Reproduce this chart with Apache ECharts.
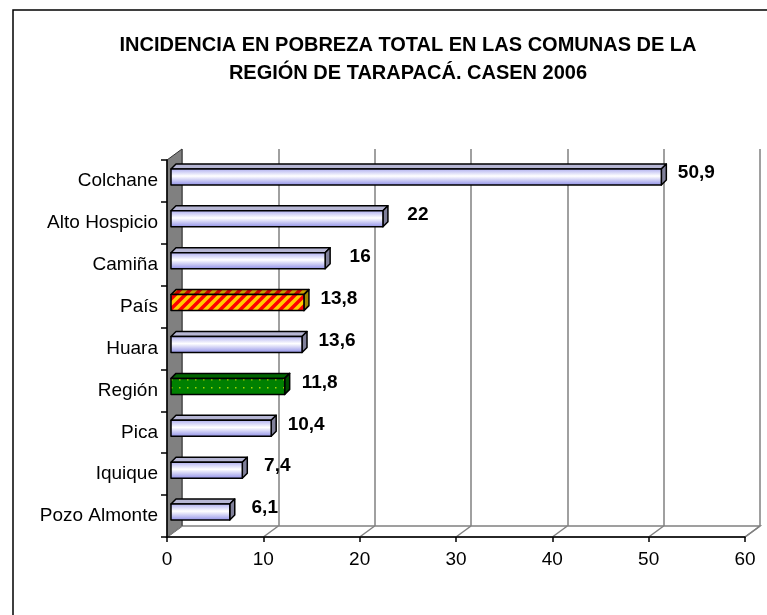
<!DOCTYPE html>
<html>
<head>
<meta charset="utf-8">
<script src="https://cdn.jsdelivr.net/npm/echarts@6/dist/echarts.min.js"></script>
<style>
  html, body { margin: 0; padding: 0; background: #fff; }
  #chart { width: 767px; height: 615px; }
</style>
</head>
<body>
<div id="chart"></div>
<script>
var categories = ["Colchane", "Alto Hospicio", "Camiña", "País", "Huara", "Región", "Pica", "Iquique", "Pozo Almonte"];
var values = [50.9, 22, 16, 13.8, 13.6, 11.8, 10.4, 7.4, 6.1];
var valueLabels = ["50,9", "22", "16", "13,8", "13,6", "11,8", "10,4", "7,4", "6,1"];
var xTicks = [0, 10, 20, 30, 40, 50, 60];

var FONT = "'Liberation Sans', Arial, sans-serif";
var DEPTH_X = 15, DEPTH_Y = 11;   // 3d wall depth

// patterns for the two special bars
function stripePattern(bg, fg) {
    var n = 10;
    var c = document.createElement("canvas");
    c.width = n; c.height = n;
    var g = c.getContext("2d");
    g.fillStyle = bg;
    g.fillRect(0, 0, n, n);
    g.strokeStyle = fg;
    g.lineWidth = 3.5;
    g.beginPath();
    g.moveTo(-2, n + 2); g.lineTo(n + 2, -2);
    g.moveTo(-2, 2); g.lineTo(2, -2);
    g.moveTo(n - 2, n + 2); g.lineTo(n + 2, n - 2);
    g.stroke();
    return c;
}
function dotPattern() {
    var c = document.createElement("canvas");
    c.width = 8; c.height = 8;
    var g = c.getContext("2d");
    g.fillStyle = "#008000";
    g.fillRect(0, 0, 8, 8);
    g.fillStyle = "#a6d600";
    g.fillRect(3, 3, 1.5, 1.5);
    return c;
}

var blueFront = new echarts.graphic.LinearGradient(0, 0, 0, 1, [
    { offset: 0, color: "#a8a8ee" },
    { offset: 0.45, color: "#ffffff" },
    { offset: 1, color: "#8a8ae6" }
]);
var barStyles = {
    "País": {
        front: { image: stripePattern("#ffcc00", "#ff0000"), repeat: "repeat" },
        top: { image: stripePattern("#c8a000", "#d00000"), repeat: "repeat" },
        side: "#a08800"
    },
    "Región": { front: { image: dotPattern(), repeat: "repeat" }, top: "#006400", side: "#004b00" },
    "default": { front: blueFront, top: "#b6b6d4", side: "#80809a" }
};

function renderFrame(params, api) {
    var cs = params.coordSys;
    var left = cs.x, top = cs.y, bottom = cs.y + cs.height, right = cs.x + cs.width;
    var children = [];
    // floor
    children.push({
        type: "polygon",
        shape: { points: [[left, bottom], [right, bottom], [right + DEPTH_X, bottom - DEPTH_Y], [left + DEPTH_X, bottom - DEPTH_Y]] },
        style: { fill: "#ffffff", stroke: "#808080", lineWidth: 1.5 }
    });
    // left wall
    children.push({
        type: "polygon",
        shape: { points: [[left, top], [left + DEPTH_X, top - DEPTH_Y], [left + DEPTH_X, bottom - DEPTH_Y], [left, bottom]] },
        style: { fill: "#808080", stroke: "#333333", lineWidth: 1 }
    });
    // floor diagonals at each tick
    xTicks.forEach(function (t) {
        var x = api.coord([t, 0])[0];
        children.push({
            type: "line",
            shape: { x1: x, y1: bottom, x2: x + DEPTH_X, y2: bottom - DEPTH_Y },
            style: { stroke: "#808080", lineWidth: 1.5 }
        });
    });
    return { type: "group", children: children };
}

function renderBar(params, api) {
    var v = api.value(0);
    var i = api.value(1);
    var name = categories[i];
    var st = barStyles[name] || barStyles["default"];
    var p0 = api.coord([0, i]);
    var p1 = api.coord([v, i]);
    var h = 16, d = 5;
    var x0 = p0[0] + 4, x1 = p1[0] + 4;
    var cy = p0[1] - 4;
    var y0 = cy - h / 2, y1 = cy + h / 2;
    var line = { stroke: "#000000", lineWidth: 1.5, lineJoin: "round" };
    return {
        type: "group",
        children: [
            {
                type: "polygon",
                shape: { points: [[x0, y0], [x0 + d, y0 - d], [x1 + d, y0 - d], [x1, y0]] },
                style: Object.assign({ fill: st.top }, line)
            },
            {
                type: "polygon",
                shape: { points: [[x1, y0], [x1 + d, y0 - d], [x1 + d, y1 - d], [x1, y1]] },
                style: Object.assign({ fill: st.side }, line)
            },
            {
                type: "rect",
                shape: { x: x0, y: y0, width: x1 - x0, height: h },
                style: Object.assign({ fill: st.front }, line)
            },
            {
                type: "text",
                style: {
                    x: x1 + 35, y: cy - 4,
                    text: valueLabels[i],
                    align: "center", verticalAlign: "middle",
                    font: "bold 19px " + FONT,
                    fill: "#000000"
                }
            }
        ]
    };
}

var chart = echarts.init(document.getElementById("chart"));
var option = {
    animation: false,
    backgroundColor: "#ffffff",
    title: {
        text: "INCIDENCIA EN POBREZA TOTAL EN LAS COMUNAS DE LA\nREGIÓN DE TARAPACÁ. CASEN 2006",
        left: 403,
        top: 26,
        textAlign: "center",
        textStyle: { fontFamily: FONT, fontSize: 20, fontWeight: "bold", color: "#000", lineHeight: 28 }
    },
    graphic: [{
        type: "rect",
        shape: { x: 13, y: 10, width: 800, height: 700 },
        style: { fill: "none", stroke: "#000", lineWidth: 1.5 },
        z: 100
    }],
    grid: [
        { left: 167, right: 22, top: 160, bottom: 78 },
        { left: 167 + DEPTH_X, right: 22 - DEPTH_X, top: 160 - DEPTH_Y, bottom: 78 + DEPTH_Y }
    ],
    xAxis: [
        {
            gridIndex: 0, type: "value", min: 0, max: 60, interval: 10,
            axisLine: { show: true, lineStyle: { color: "#000", width: 1.5 } },
            axisTick: { show: true, length: 5, lineStyle: { color: "#000", width: 1.5 } },
            axisLabel: { margin: 13, fontFamily: FONT, fontSize: 19, color: "#000" },
            splitLine: { show: false },
            z: 5
        },
        {
            gridIndex: 1, type: "value", min: 0, max: 60, interval: 10,
            axisLine: { show: false }, axisTick: { show: false }, axisLabel: { show: false },
            splitLine: { show: true, lineStyle: { color: "#808080", width: 1.5 } }
        }
    ],
    yAxis: [
        {
            gridIndex: 0, type: "category", data: categories, inverse: true,
            axisLine: { show: true, lineStyle: { color: "#000", width: 1.5 } },
            axisTick: { show: true, length: 6, lineStyle: { color: "#000", width: 1.5 } },
            axisLabel: { margin: 9, fontFamily: FONT, fontSize: 19, color: "#000" },
            z: 5
        },
        {
            gridIndex: 1, type: "category", data: categories, inverse: true,
            axisLine: { show: false }, axisTick: { show: false }, axisLabel: { show: false },
            splitLine: { show: false }
        }
    ],
    series: [
        {
            type: "custom", xAxisIndex: 0, yAxisIndex: 0,
            renderItem: renderFrame,
            data: [[0, 0]],
            encode: { x: 0, y: 1 },
            z: 1, silent: true
        },
        {
            type: "custom", xAxisIndex: 0, yAxisIndex: 0,
            renderItem: renderBar,
            data: values.map(function (v, i) { return [v, i]; }),
            encode: { x: 0, y: 1 },
            z: 3
        }
    ]
};
chart.setOption(option, true);
</script>
</body>
</html>
